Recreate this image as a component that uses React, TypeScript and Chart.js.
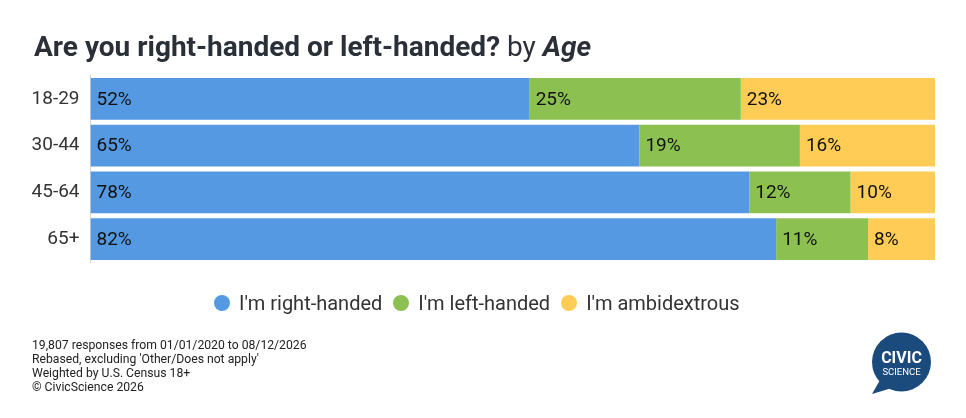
import React, { useEffect, useRef } from "react";
import { Chart, registerables } from "chart.js";

Chart.register(...registerables);

const categories = ["18-29", "30-44", "45-64", "65+"];
const seriesNames = ["I'm right-handed", "I'm left-handed", "I'm ambidextrous"];
const rightHanded = [52, 65, 78, 82];
const leftHanded = [25, 19, 12, 11];
const ambidextrous = [23, 16, 10, 8];
const seriesColors = ["#5499E2", "#8CC152", "#FFCC55"];
const footnotes = [
  "19,807 responses from 01/01/2020 to 08/12/2026",
  "Rebased, excluding 'Other/Does not apply'",
  "Weighted by U.S. Census 18+",
  "\u00A9 CivicScience 2026",
];

const rawSeries = [rightHanded, leftHanded, ambidextrous];
const rowTotals = categories.map((_, i) => rawSeries.reduce((s, arr) => s + arr[i], 0));

const FONT = "Roboto, 'Noto Sans', sans-serif";

const labelPlugin = {
  id: "barLabels",
  afterDatasetsDraw(chart: any) {
    const ctx = chart.ctx;
    ctx.save();
    ctx.font = `19px ${FONT}`;
    ctx.fillStyle = "#111111";
    ctx.textBaseline = "middle";
    ctx.textAlign = "left";
    chart.data.datasets.forEach((ds: any, di: number) => {
      const meta = chart.getDatasetMeta(di);
      meta.data.forEach((bar: any, i: number) => {
        const left = Math.min(bar.x, bar.base);
        ctx.fillText(`${ds.rawValues[i]}%`, left + 6, bar.y + 1);
      });
    });
    ctx.restore();
  },
};

export default function App() {
  const canvasRef = useRef<HTMLCanvasElement | null>(null);

  useEffect(() => {
    document.body.style.margin = "0";
    const canvas = canvasRef.current;
    if (!canvas) return;
    const chart = new Chart(canvas, {
      type: "bar",
      data: {
        labels: categories,
        datasets: rawSeries.map((arr, si) => ({
          label: seriesNames[si],
          data: arr.map((v, i) => (v / rowTotals[i]) * 100),
          rawValues: arr,
          backgroundColor: seriesColors[si],
          borderWidth: 0,
          categoryPercentage: 1,
          barPercentage: 0.89,
        })) as any,
      },
      options: {
        indexAxis: "y",
        animation: false,
        responsive: false,
        maintainAspectRatio: false,
        layout: { padding: { left: 30.5, right: 31, top: 75.5, bottom: 155.5 } },
        plugins: {
          legend: { display: false },
          title: { display: false },
          tooltip: { enabled: false },
        },
        scales: {
          x: { stacked: true, min: 0, max: 100, display: false },
          y: {
            stacked: true,
            grid: { display: false, drawTicks: false },
            border: { display: true, color: "#d4d4d4", width: 1 },
            ticks: { color: "#333333", font: { size: 19, family: FONT }, padding: 11 },
            afterFit: (s: any) => {
              s.width = 60;
            },
          },
        },
      } as any,
      plugins: [labelPlugin],
    });
    return () => chart.destroy();
  }, []);

  return (
    <div style={{ position: "relative", width: 966, height: 418, background: "#ffffff", fontFamily: FONT, overflow: "hidden" }}>
      <canvas ref={canvasRef} width={966} height={418} style={{ position: "absolute", left: 0, top: 0, width: 966, height: 418 }} />
      <div
        style={{
          position: "absolute",
          left: 34,
          top: 32.7,
          fontSize: 28,
          lineHeight: "28px",
          color: "#2B3038",
          whiteSpace: "nowrap",
        }}
      >
        <span style={{ fontWeight: 700 }}>Are you right-handed or left-handed?</span>
        <span style={{ fontWeight: 400 }}> by </span>
        <span style={{ fontWeight: 700, fontStyle: "italic" }}>Age</span>
      </div>
      <div
        style={{
          position: "absolute",
          left: 214,
          top: 292,
          height: 22,
          display: "flex",
          alignItems: "center",
          fontSize: 20,
          lineHeight: "22px",
          color: "#333333",
          whiteSpace: "nowrap",
        }}
      >
        {seriesNames.map((name, i) => (
          <div key={name} style={{ display: "flex", alignItems: "center", marginRight: 11 }}>
            <span
              style={{
                display: "inline-block",
                width: 16,
                height: 16,
                borderRadius: 8,
                background: seriesColors[i],
                marginRight: 9,
              }}
            />
            <span>{name}</span>
          </div>
        ))}
      </div>
      <div
        style={{
          position: "absolute",
          left: 32,
          top: 338,
          fontSize: 12.2,
          lineHeight: "14px",
          color: "#222222",
          whiteSpace: "nowrap",
        }}
      >
        {footnotes.map((t) => (
          <div key={t}>{t}</div>
        ))}
      </div>
      <svg width={80} height={80} viewBox="0 0 80 80" style={{ position: "absolute", left: 862, top: 322 }}>
        <circle cx={39.5} cy={40} r={29.5} fill="#1B4A7C" />
        <path d="M 18 58 L 10 72 L 30 66 Z" fill="#1B4A7C" />
        <text x={39.5} y={41} textAnchor="middle" fill="#ffffff" fontFamily={FONT} fontWeight={700} fontSize={16}>
          CIVIC
        </text>
        <text x={39.5} y={52.5} textAnchor="middle" fill="#ffffff" fontFamily={FONT} fontWeight={400} fontSize={9.5}>
          SCIENCE
        </text>
      </svg>
    </div>
  );
}
